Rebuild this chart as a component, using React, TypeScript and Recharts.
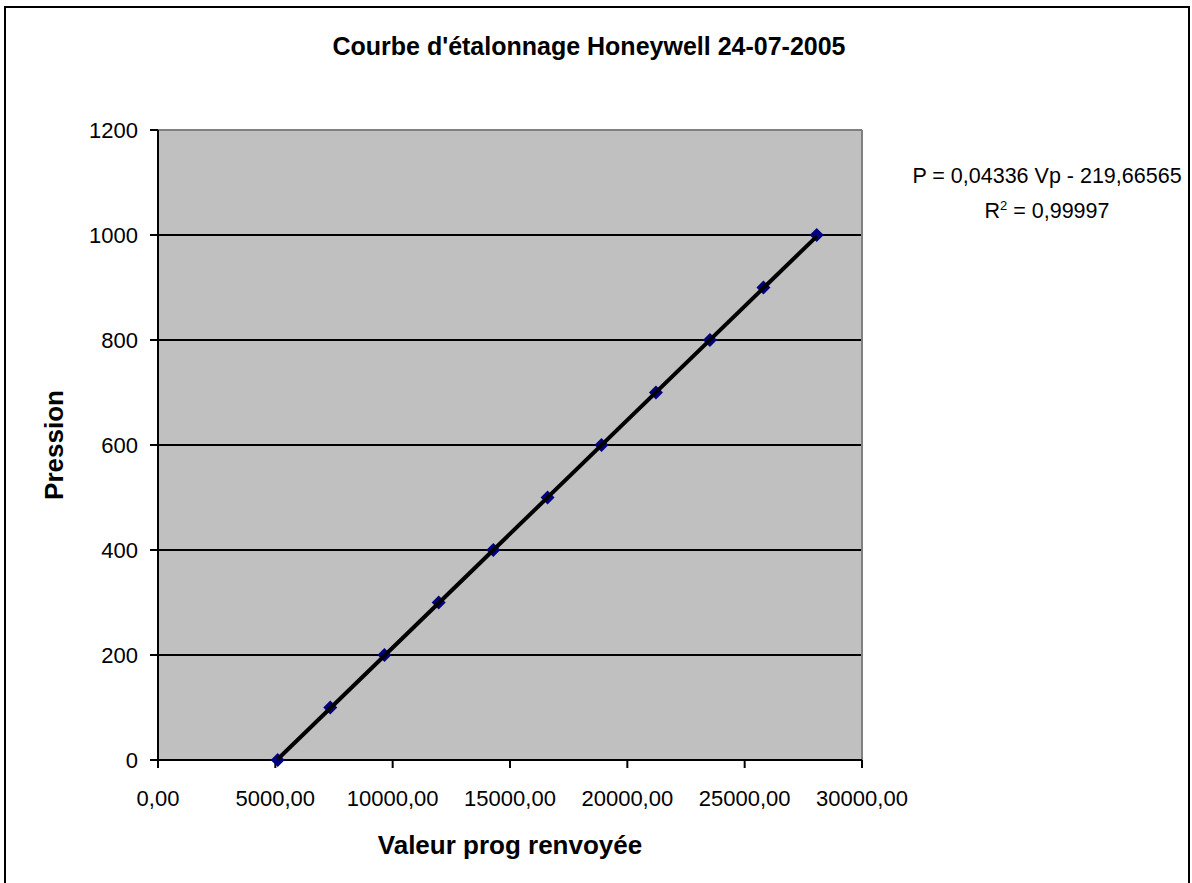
import React from 'react';
import { ScatterChart, Scatter, XAxis, YAxis, CartesianGrid, ReferenceLine, Label } from 'recharts';

const valeurs = [5100, 7340, 9650, 11960, 14290, 16600, 18900, 21220, 23520, 25800, 28070];
const pressions = [0, 100, 200, 300, 400, 500, 600, 700, 800, 900, 1000];
const xTicks = [0, 5000, 10000, 15000, 20000, 25000, 30000];
const yTicks = [0, 200, 400, 600, 800, 1000, 1200];
const pente = 0.04336;
const origine = -219.66565;

const points = valeurs.map((v, i) => ({ x: v, y: pressions[i] }));
const xMin = Math.min(...valeurs);
const xMax = Math.max(...valeurs);
const tendance = [
  { x: xMin, y: pente * xMin + origine },
  { x: xMax, y: pente * xMax + origine },
];

const font = '"Liberation Sans", Arial, sans-serif';

const Losange = (props: any) => {
  const { cx, cy } = props;
  const r = 7;
  return <polygon points={`${cx},${cy - r} ${cx + r},${cy} ${cx},${cy + r} ${cx - r},${cy}`} fill="#000080" />;
};

const App: React.FC = () => {
  return (
    <div style={{ position: 'absolute', left: 0, top: 0, width: 1192, height: 883, background: '#fff', fontFamily: font }}>
      <div style={{ position: 'absolute', left: 4, top: 6, width: 1186, height: 880, border: '2px solid #000', boxSizing: 'border-box' }} />
      <div style={{ position: 'absolute', left: 0, width: 1178, top: 32, textAlign: 'center', fontWeight: 'bold', fontSize: 25 }}>
        Courbe d'étalonnage Honeywell 24-07-2005
      </div>
      <div style={{ position: 'absolute', left: 897, width: 300, top: 161, textAlign: 'center', fontSize: 21.5, lineHeight: '30px' }}>
        <div>P = 0,04336 Vp - 219,66565</div>
        <div>R<sup style={{ fontSize: 13 }}>2</sup> = 0,99997</div>
      </div>
      <ScatterChart width={1192} height={883} margin={{ top: 130, right: 330, bottom: 23, left: 58 }} style={{ position: 'absolute', left: 0, top: 0 }}>
        <CartesianGrid vertical={false} fill="#C0C0C0" stroke="#000" strokeWidth={2} fillOpacity={1} />
        <XAxis
          type="number"
          dataKey="x"
          domain={[0, 30000]}
          ticks={xTicks}
          height={100}
          tickSize={8}
          tickMargin={22}
          axisLine={{ stroke: '#000', strokeWidth: 2 }}
          tickLine={{ stroke: '#000', strokeWidth: 2 }}
          tick={{ fill: '#000', fontSize: 22, fontFamily: font }}
          tickFormatter={(v: number) => v.toFixed(2).replace('.', ',')}
        >
          <Label value="Valeur prog renvoyée" position="insideBottom" offset={6} style={{ fontWeight: 'bold', fontSize: 26, fill: '#000', fontFamily: font }} />
        </XAxis>
        <YAxis
          type="number"
          dataKey="y"
          domain={[0, 1200]}
          ticks={yTicks}
          width={100}
          tickSize={8}
          tickMargin={12}
          axisLine={{ stroke: '#000', strokeWidth: 2 }}
          tickLine={{ stroke: '#000', strokeWidth: 2 }}
          tick={{ fill: '#000', fontSize: 22, fontFamily: font }}
        >
          <Label value="Pression" position="center" angle={-90} dx={-54} style={{ fontWeight: 'bold', fontSize: 26, fill: '#000', fontFamily: font }} />
        </YAxis>
        <ReferenceLine y={1200} stroke="#808080" strokeWidth={2} />
        <ReferenceLine x={30000} stroke="#808080" strokeWidth={2} />
        <Scatter data={points} shape={<Losange />} isAnimationActive={false} />
        <Scatter data={tendance} line={{ stroke: '#000', strokeWidth: 4 }} shape={() => null} isAnimationActive={false} />
      </ScatterChart>
    </div>
  );
};

export default App;
